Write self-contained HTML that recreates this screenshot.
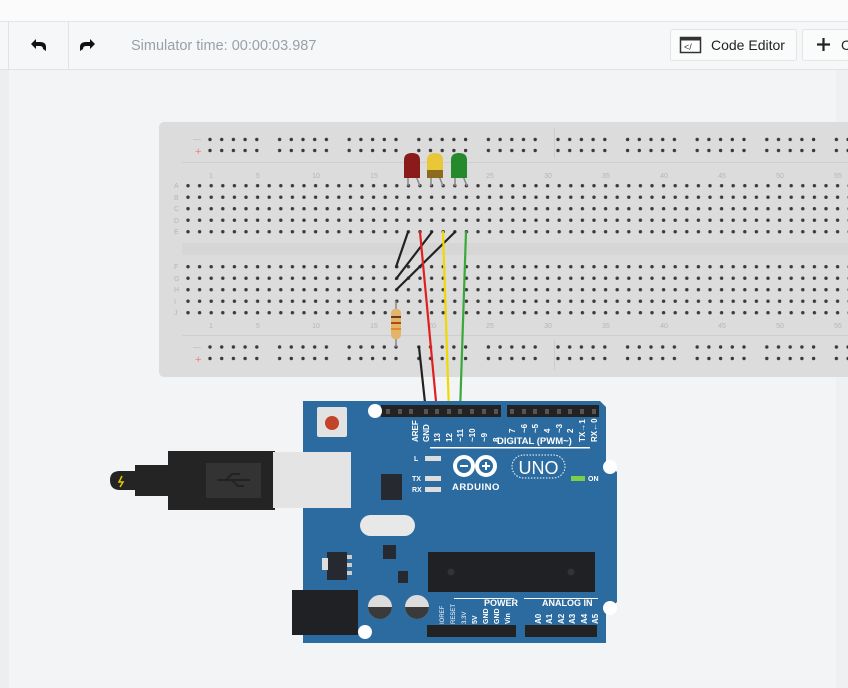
<!DOCTYPE html>
<html><head><meta charset="utf-8"><style>
html,body{margin:0;padding:0;width:848px;height:688px;overflow:hidden;background:#f3f4f5;font-family:"Liberation Sans",sans-serif}
</style></head><body>
<svg width="848" height="688" viewBox="0 0 848 688" xmlns="http://www.w3.org/2000/svg" font-family="Liberation Sans, sans-serif">
<defs>
<pattern id="rail" x="204.5" y="0" width="69.6" height="688" patternUnits="userSpaceOnUse">
<g fill="#3a3a3a">
<circle cx="5.5" cy="139.5" r="1.7"/><circle cx="17.2" cy="139.5" r="1.7"/><circle cx="28.9" cy="139.5" r="1.7"/><circle cx="40.6" cy="139.5" r="1.7"/><circle cx="52.3" cy="139.5" r="1.7"/>
<circle cx="5.5" cy="150.5" r="1.7"/><circle cx="17.2" cy="150.5" r="1.7"/><circle cx="28.9" cy="150.5" r="1.7"/><circle cx="40.6" cy="150.5" r="1.7"/><circle cx="52.3" cy="150.5" r="1.7"/>
<circle cx="5.5" cy="347" r="1.7"/><circle cx="17.2" cy="347" r="1.7"/><circle cx="28.9" cy="347" r="1.7"/><circle cx="40.6" cy="347" r="1.7"/><circle cx="52.3" cy="347" r="1.7"/>
<circle cx="5.5" cy="358.5" r="1.7"/><circle cx="17.2" cy="358.5" r="1.7"/><circle cx="28.9" cy="358.5" r="1.7"/><circle cx="40.6" cy="358.5" r="1.7"/><circle cx="52.3" cy="358.5" r="1.7"/>
</g></pattern>
<pattern id="grid" x="182.2" y="0" width="11.6" height="688" patternUnits="userSpaceOnUse">
<g fill="#3a3a3a">
<circle cx="5.8" cy="185.7" r="1.7"/><circle cx="5.8" cy="197.2" r="1.7"/><circle cx="5.8" cy="208.7" r="1.7"/><circle cx="5.8" cy="220.2" r="1.7"/><circle cx="5.8" cy="231.7" r="1.7"/>
<circle cx="5.8" cy="266.7" r="1.7"/><circle cx="5.8" cy="278.2" r="1.7"/><circle cx="5.8" cy="289.7" r="1.7"/><circle cx="5.8" cy="301.2" r="1.7"/><circle cx="5.8" cy="312.7" r="1.7"/>
</g></pattern>
</defs>
<rect x="0" y="0" width="848" height="21" fill="#fbfbfb"/>
<rect x="0" y="21" width="848" height="1" fill="#e2e4e6"/>
<rect x="0" y="22" width="848" height="47" fill="#f6f7f8"/>
<rect x="0" y="69" width="848" height="1" fill="#e1e3e5"/>
<rect x="8" y="22" width="1" height="47" fill="#e1e3e5"/>
<rect x="68" y="22" width="1" height="47" fill="#e1e3e5"/>
<rect x="0" y="70" width="9" height="618" fill="#eceef0"/>
<rect x="836" y="70" width="12" height="618" fill="#eef0f2"/>
<path d="M46 51 L46 47 Q46 42 40 42 L36 42 L36 39 L31 44 L36 49 L36 46 L40 46 Q43 46 43 49 Z" fill="#111"/>
<path d="M80 51 L80 47 Q80 42 86 42 L90 42 L90 39 L95 44 L90 49 L90 46 L86 46 Q83 46 83 49 Z" fill="#111"/>
<text x="131" y="50" font-size="14.5" fill="#98a0a8">Simulator time: 00:00:03.987</text>
<rect x="670.5" y="29.5" width="126" height="31" rx="2" fill="#fafbfb" stroke="#e3e5e7"/>
<rect x="680.5" y="37.5" width="20" height="15" fill="#fff" stroke="#333" stroke-width="1.5"/>
<rect x="680.5" y="37.5" width="20" height="3" fill="#333"/>
<text x="684" y="50" font-size="9" fill="#333">&lt;/</text>
<text x="711" y="50" font-size="14" fill="#222">Code Editor</text>
<rect x="802.5" y="29.5" width="60" height="31" rx="2" fill="#fafbfb" stroke="#e3e5e7"/>
<path d="M817 44.5 H830 M823.5 38 V51" stroke="#222" stroke-width="2.2"/>
<text x="841" y="50" font-size="14" fill="#222">C</text>

<rect x="159" y="122" width="700" height="255" rx="5" fill="#dcdcdc"/>
<rect x="182" y="162" width="680" height="1" fill="#cfcfcf"/>
<rect x="182" y="335" width="680" height="1" fill="#cfcfcf"/>
<rect x="182" y="243" width="680" height="12" fill="#d6d6d6"/>
<rect x="554" y="128" width="1" height="30" fill="#cdcdcd"/>
<rect x="554" y="340" width="1" height="30" fill="#cdcdcd"/>
<rect x="190" y="130" width="658" height="240" fill="url(#rail)"/>
<rect x="182" y="178" width="666" height="145" fill="url(#grid)"/>
<g font-size="8" fill="#b5b5b5">
<text x="193" y="142">—</text><text x="195" y="155" fill="#f08080" font-size="11">+</text>
<text x="193" y="350">—</text><text x="195" y="363" fill="#f08080" font-size="11">+</text>
<g font-size="7">
<text x="174" y="188">A</text><text x="174" y="200">B</text><text x="174" y="211">C</text><text x="174" y="223">D</text><text x="174" y="234">E</text>
<text x="174" y="269">F</text><text x="174" y="281">G</text><text x="174" y="292">H</text><text x="174" y="304">I</text><text x="174" y="315">J</text>
</g>
<g font-size="7" text-anchor="middle">
<text x="211" y="178">1</text><text x="258" y="178">5</text><text x="316" y="178">10</text><text x="374" y="178">15</text><text x="432" y="178">20</text><text x="490" y="178">25</text><text x="548" y="178">30</text><text x="606" y="178">35</text><text x="664" y="178">40</text><text x="722" y="178">45</text><text x="780" y="178">50</text><text x="838" y="178">55</text>
<text x="211" y="328">1</text><text x="258" y="328">5</text><text x="316" y="328">10</text><text x="374" y="328">15</text><text x="432" y="328">20</text><text x="490" y="328">25</text><text x="548" y="328">30</text><text x="606" y="328">35</text><text x="664" y="328">40</text><text x="722" y="328">45</text><text x="780" y="328">50</text><text x="838" y="328">55</text>
</g></g>
<g stroke="#888" stroke-width="1.5">
<line x1="408" y1="176" x2="408" y2="186"/><line x1="416" y1="176" x2="420" y2="186"/>
<line x1="431" y1="176" x2="431" y2="186"/><line x1="439" y1="176" x2="443" y2="186"/>
<line x1="455" y1="176" x2="455" y2="186"/><line x1="463" y1="176" x2="467" y2="186"/>
</g>
<path d="M404 178 V160 Q404 153 412 153 Q420 153 420 160 V178 Z" fill="#8b1a1a"/>
<path d="M427 178 V160 Q427 153 435 153 Q443 153 443 160 V178 Z" fill="#e8c838"/>
<rect x="427" y="170" width="16" height="8" fill="#8c6b1c"/>
<path d="M451 178 V160 Q451 153 459 153 Q467 153 467 160 V178 Z" fill="#248a2c"/>
<line x1="396" y1="301" x2="396" y2="347" stroke="#888" stroke-width="1.5"/>
<rect x="391" y="309" width="10" height="30" rx="4" fill="#e3b56a"/>
<rect x="391" y="316" width="10" height="2" fill="#6b3a1a"/><rect x="391" y="322" width="10" height="2" fill="#b04a10"/><rect x="391" y="328" width="10" height="2" fill="#e08a20"/>
<g stroke-width="2.2" stroke-linecap="round" fill="none">
<line x1="408" y1="232" x2="396" y2="267" stroke="#222"/>
<line x1="432" y1="232" x2="396" y2="279" stroke="#222"/>
<line x1="455" y1="232" x2="396" y2="290" stroke="#222"/>
<line x1="419" y1="347" x2="426" y2="412" stroke="#222"/>
<line x1="420" y1="232" x2="437" y2="412" stroke="#e02020"/>
<line x1="443" y1="232" x2="449" y2="412" stroke="#f0d800"/>
<line x1="466" y1="232" x2="460" y2="412" stroke="#3aa83a"/>
</g>
<path d="M303 401 H600 L606 407 V462 L617 472 V602 L606 612 V643 H303 Z" fill="#2c6ba0"/>
<rect x="381" y="405" width="120" height="12" fill="#222"/>
<rect x="507" y="405" width="92" height="12" fill="#222"/>
<rect x="427" y="625" width="89" height="12" fill="#222"/>
<rect x="525" y="625" width="72" height="12" fill="#222"/>
<g fill="#555"><rect x="386" y="409" width="4" height="5"/><rect x="398" y="409" width="4" height="5"/><rect x="409" y="409" width="4" height="5"/><rect x="424" y="409" width="4" height="5"/><rect x="435" y="409" width="4" height="5"/><rect x="447" y="409" width="4" height="5"/><rect x="458" y="409" width="4" height="5"/><rect x="470" y="409" width="4" height="5"/><rect x="482" y="409" width="4" height="5"/><rect x="494" y="409" width="4" height="5"/>
<rect x="510" y="409" width="4" height="5"/><rect x="522" y="409" width="4" height="5"/><rect x="533" y="409" width="4" height="5"/><rect x="545" y="409" width="4" height="5"/><rect x="557" y="409" width="4" height="5"/><rect x="568" y="409" width="4" height="5"/><rect x="580" y="409" width="4" height="5"/><rect x="592" y="409" width="4" height="5"/></g>
<g fill="#fff"><circle cx="375" cy="411" r="7"/><circle cx="610" cy="467" r="7"/><circle cx="610" cy="608" r="7"/><circle cx="365" cy="632" r="7"/></g>
<rect x="317" y="407" width="30" height="30" rx="2" fill="#e2e2e2"/>
<circle cx="332" cy="423" r="7" fill="#c0432a"/>
<path d="M110 480 Q110 471 120 471 H135 V465 H168 V451 H275 V510 H168 V496 H135 V490 H120 Q110 490 110 480 Z" fill="#242424"/>
<rect x="206" y="463" width="55" height="35" fill="#333"/>
<path d="M217 480 H250 M226 480 L232 474 H240 M232 480 L238 486 H244" stroke="#222" stroke-width="2" fill="none"/>
<path d="M122 476 L119 482 H123 L120 487" stroke="#e8c800" stroke-width="1.5" fill="none"/>
<rect x="273" y="452" width="78" height="56" fill="#e4e4e4"/>
<rect x="381" y="474" width="21" height="26" fill="#262a30"/>
<rect x="360" y="515" width="55" height="21" rx="10.5" fill="#e8e8e8"/>
<rect x="383" y="545" width="13" height="14" fill="#262a30"/>
<rect x="327" y="552" width="20" height="28" fill="#262a30"/><rect x="322" y="558" width="6" height="12" fill="#ddd"/>
<g fill="#ccc"><rect x="347" y="555" width="5" height="4"/><rect x="347" y="563" width="5" height="4"/><rect x="347" y="571" width="5" height="4"/></g>
<rect x="398" y="571" width="10" height="12" fill="#262a30"/>
<rect x="428" y="552" width="167" height="40" fill="#1f2124"/>
<circle cx="451" cy="572" r="3.5" fill="#333"/><circle cx="571" cy="572" r="3.5" fill="#333"/>
<rect x="292" y="590" width="66" height="45" fill="#1f2124"/>
<circle cx="380" cy="607" r="12" fill="#dcdcdc"/><path d="M368 607 A12 12 0 0 0 392 607 Z" fill="#3a3a3a"/>
<circle cx="417" cy="607" r="12" fill="#dcdcdc"/><path d="M405 607 A12 12 0 0 0 429 607 Z" fill="#3a3a3a"/>
<g fill="#fff" font-size="8" font-weight="bold">
<g transform="rotate(-90)">
<text x="-442" y="418">AREF</text><text x="-442" y="429">GND</text><text x="-442" y="440">13</text><text x="-442" y="452">12</text><text x="-442" y="463">~11</text><text x="-442" y="475">~10</text><text x="-442" y="487">~9</text><text x="-442" y="499">8</text>
<text x="-433" y="515">7</text><text x="-433" y="527">~6</text><text x="-433" y="538">~5</text><text x="-433" y="550">4</text><text x="-433" y="562">~3</text><text x="-433" y="573">2</text><text x="-442" y="585">TX→1</text><text x="-442" y="597">RX←0</text>
<g font-size="6" font-weight="normal">
<text x="-624" y="444">IOREF</text><text x="-624" y="455">RESET</text><text x="-624" y="466">3.3V</text></g>
<g font-size="7">
<text x="-624" y="477">5V</text><text x="-624" y="488">GND</text><text x="-624" y="499">GND</text><text x="-624" y="510">Vin</text></g>
<text x="-624" y="541">A0</text><text x="-624" y="552">A1</text><text x="-624" y="564">A2</text><text x="-624" y="575">A3</text><text x="-624" y="587">A4</text><text x="-624" y="598">A5</text>
</g>
<text x="497" y="444" font-size="9.5">DIGITAL (PWM~)</text>
<text x="484" y="606" font-size="9">POWER</text>
<text x="542" y="606" font-size="9">ANALOG IN</text>
<text x="414" y="461" font-size="7">L</text><text x="412" y="481" font-size="7">TX</text><text x="412" y="492" font-size="7">RX</text>
<text x="452" y="490" font-size="9.5" letter-spacing="0.5">ARDUINO</text>
<text x="588" y="481" font-size="7">ON</text>
</g>
<rect x="430" y="447" width="160" height="1.5" fill="#fff"/>
<rect x="454" y="598" width="60" height="1" fill="#fff"/><rect x="524" y="598" width="74" height="1" fill="#fff"/>
<g fill="#ddd"><rect x="425" y="456" width="16" height="5"/><rect x="425" y="476" width="16" height="5"/><rect x="425" y="487" width="16" height="5"/></g>
<rect x="571" y="476" width="14" height="5" fill="#7ad04a"/>
<g fill="none" stroke="#fff" stroke-width="4"><circle cx="464" cy="466" r="9"/><circle cx="486" cy="466" r="9"/></g>
<path d="M460 466 H468 M482 466 H490 M486 462 V470" stroke="#fff" stroke-width="2"/>
<rect x="512" y="455" width="53" height="23" rx="11.5" fill="none" stroke="#fff" stroke-dasharray="1.5 1.5"/>
<text x="538.5" y="474" font-size="18" fill="#fff" text-anchor="middle">UNO</text>
</svg>
</body></html>
